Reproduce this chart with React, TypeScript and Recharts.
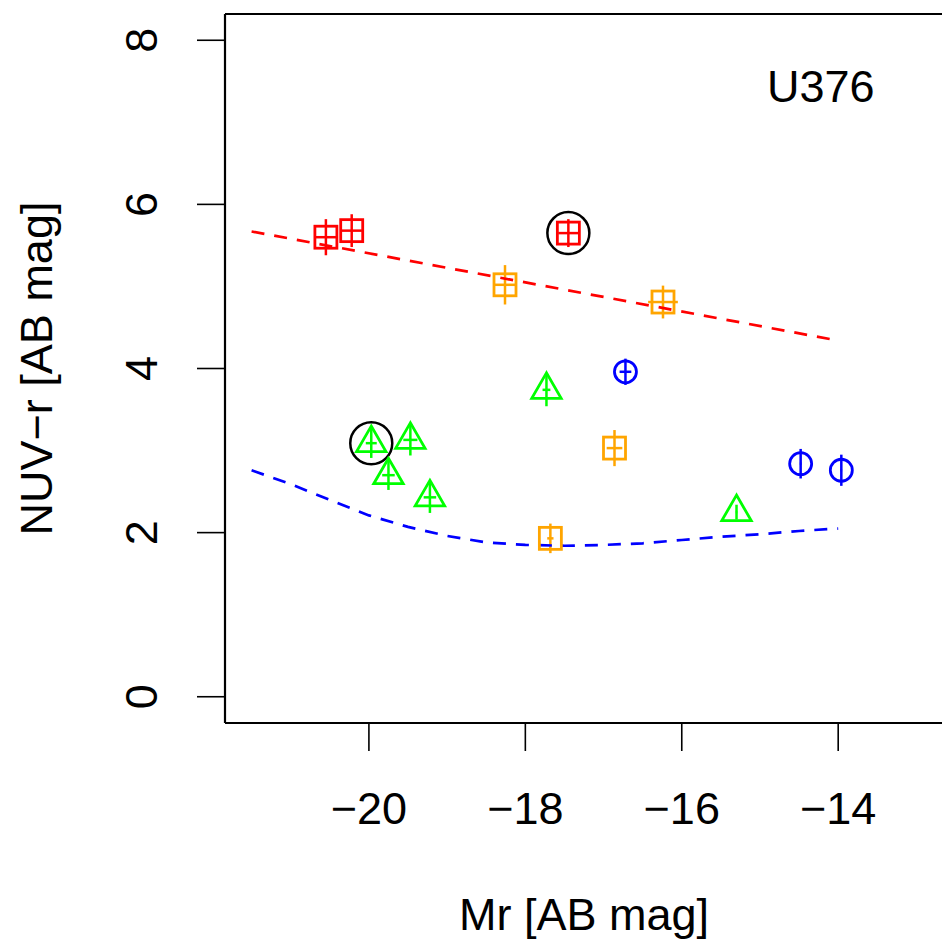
import {
  ErrorBar,
  Label,
  ReferenceLine,
  Scatter,
  ScatterChart,
  XAxis,
  YAxis,
} from 'recharts'

// values (Mr, NUV-r, x error, y error, circled)
const redX = [-20.55, -20.22, -17.45]
const redY = [5.6, 5.68, 5.65]
const redEx = [0.13, 0.13, 0.13]
const redEy = [0.22, 0.2, 0.17]
const redRing = [false, false, true]

const orangeX = [-18.26, -16.24, -16.86, -17.68]
const orangeY = [5.02, 4.81, 3.03, 1.93]
const orangeEx = [0.13, 0.19, 0.1, 0.04]
const orangeEy = [0.24, 0.2, 0.22, 0.18]

const greenX = [-19.97, -19.47, -19.75, -19.22, -17.73, -15.3]
const greenY = [3.09, 3.13, 2.7, 2.43, 3.74, 2.25]
const greenEx = [0.07, 0.09, 0.08, 0.08, 0.05, 0.01]
const greenEy = [0.18, 0.19, 0.18, 0.19, 0.2, 0.09]
const greenRing = [true, false, false, false, false, false]

const blueX = [-16.72, -14.48, -13.96]
const blueY = [3.96, 2.84, 2.76]
const blueEx = [0.075, 0.01, 0.01]
const blueEy = [0.16, 0.18, 0.19]

// red sequence (straight) and blue cloud (curved) reference lines
const redLineX = [-21.5, -14]
const redLineY = [5.67, 4.34]
const blueLineX = [-21.5, -21, -20.5, -20, -19.5, -19, -18.5, -18, -17.5, -17, -16.5, -16, -15.5, -15, -14.5, -14]
const blueLineY = [2.76, 2.59, 2.4, 2.21, 2.07, 1.96, 1.88, 1.85, 1.84, 1.85, 1.87, 1.91, 1.95, 1.98, 2.02, 2.05]

const xTicks = [-20, -18, -16, -14]
const yTicks = [0, 2, 4, 6, 8]

const FONT = '"Liberation Sans", Arial, Helvetica, sans-serif'
const W = 960
const H = 942
const LEFT = 225
const TOP = 14
const BOTTOM = 723
const RIGHT = 943

type Kind = 'square' | 'triangle' | 'circle'
type Pt = { x: number; y: number; ex: number; ey: number; ring: boolean }

function pts(xs: number[], ys: number[], ex: number[], ey: number[], ring?: boolean[]): Pt[] {
  return xs.map((x, i) => ({ x, y: ys[i], ex: ex[i], ey: ey[i], ring: ring ? ring[i] : false }))
}

const line = (xs: number[], ys: number[]) => xs.map((x, i) => ({ x, y: ys[i] }))

const minus = (v: number) => (v < 0 ? `\u2212${Math.abs(v)}` : `${v}`)

function marker(kind: Kind, color: string) {
  return (p: any) => {
    const { cx, cy, payload } = p
    if (cx == null || cy == null) return <g />
    const sw = 2.8
    let m
    if (kind === 'square') {
      m = <rect x={cx - 11} y={cy - 11} width={22} height={22} fill="none" stroke={color} strokeWidth={sw} />
    } else if (kind === 'triangle') {
      const r = 17
      const tri = `${cx},${cy - r} ${cx - r * 0.866},${cy + r / 2} ${cx + r * 0.866},${cy + r / 2}`
      m = <polygon points={tri} fill="none" stroke={color} strokeWidth={sw} />
    } else {
      m = <circle cx={cx} cy={cy} r={11} fill="none" stroke={color} strokeWidth={sw} />
    }
    return (
      <g>
        {m}
        {payload?.ring ? <circle cx={cx} cy={cy} r={21} fill="none" stroke="#000" strokeWidth={2.5} /> : null}
      </g>
    )
  }
}

const noDot = () => <g />

const XTick = (p: any) => (
  <text x={p.x} y={p.y} textAnchor="middle" fontSize={45} fontFamily={FONT} fill="#000">
    {minus(p.payload.value)}
  </text>
)

const YTick = (p: any) => (
  <text
    x={p.x}
    y={p.y}
    transform={`rotate(-90 ${p.x} ${p.y})`}
    textAnchor="middle"
    fontSize={45}
    fontFamily={FONT}
    fill="#000"
  >
    {minus(p.payload.value)}
  </text>
)

export default function App() {
  const series: [Pt[], string, Kind][] = [
    [pts(redX, redY, redEx, redEy, redRing), '#ff0000', 'square'],
    [pts(orangeX, orangeY, orangeEx, orangeEy), '#ffa500', 'square'],
    [pts(greenX, greenY, greenEx, greenEy, greenRing), '#00ff00', 'triangle'],
    [pts(blueX, blueY, blueEx, blueEy), '#0000ff', 'circle'],
  ]

  return (
    <div style={{ position: 'absolute', left: 0, top: 0, width: 942, height: 942, overflow: 'hidden', background: '#fff' }}>
      <ScatterChart width={W} height={H} margin={{ top: TOP, right: W - RIGHT, left: 0, bottom: 0 }}>
        <XAxis
          type="number"
          dataKey="x"
          domain={[-21.84, -12.66]}
          allowDataOverflow
          ticks={xTicks}
          tickSize={28}
          tickMargin={73}
          height={H - BOTTOM}
          tick={XTick}
          axisLine={{ stroke: '#000', strokeWidth: 2.2 }}
          tickLine={{ stroke: '#000', strokeWidth: 1.6 }}
        >
          <Label
            content={() => (
              <text x={(LEFT + RIGHT) / 2} y={930} textAnchor="middle" fontSize={45} fontFamily={FONT} fill="#000">
                Mr [AB mag]
              </text>
            )}
          />
        </XAxis>
        <YAxis
          type="number"
          dataKey="y"
          domain={[-0.32, 8.32]}
          allowDataOverflow
          ticks={yTicks}
          tickSize={28}
          tickMargin={40}
          width={LEFT}
          tick={YTick}
          axisLine={{ stroke: '#000', strokeWidth: 2.2 }}
          tickLine={{ stroke: '#000', strokeWidth: 1.6 }}
        >
          <Label
            content={() => {
              const cy = (TOP + BOTTOM) / 2
              return (
                <text
                  x={52}
                  y={cy}
                  transform={`rotate(-90 52 ${cy})`}
                  textAnchor="middle"
                  fontSize={45}
                  fontFamily={FONT}
                  fill="#000"
                >
                  NUV{'\u2212'}r [AB mag]
                </text>
              )
            }}
          />
        </YAxis>
        <ReferenceLine y={8.32} stroke="#000" strokeWidth={2.2}>
          <Label
            content={() => (
              <text x={767} y={102} textAnchor="start" fontSize={45} fontFamily={FONT} fill="#000">
                U376
              </text>
            )}
          />
        </ReferenceLine>

        <Scatter
          data={line(redLineX, redLineY)}
          line={{ stroke: '#ff0000', strokeWidth: 2.7, strokeDasharray: '13 10' }}
          shape={noDot}
          isAnimationActive={false}
        />
        <Scatter
          data={line(blueLineX, blueLineY)}
          line={{ stroke: '#0000ff', strokeWidth: 2.7, strokeDasharray: '13 10' }}
          shape={noDot}
          isAnimationActive={false}
        />

        {series.map(([data, color, kind]) => (
          <Scatter key={color} data={data} shape={marker(kind, color)} isAnimationActive={false}>
            <ErrorBar dataKey="ey" direction="y" width={0} stroke={color} strokeWidth={2.5} isAnimationActive={false} />
            <ErrorBar dataKey="ex" direction="x" width={0} stroke={color} strokeWidth={2.5} isAnimationActive={false} />
          </Scatter>
        ))}
      </ScatterChart>
    </div>
  )
}
